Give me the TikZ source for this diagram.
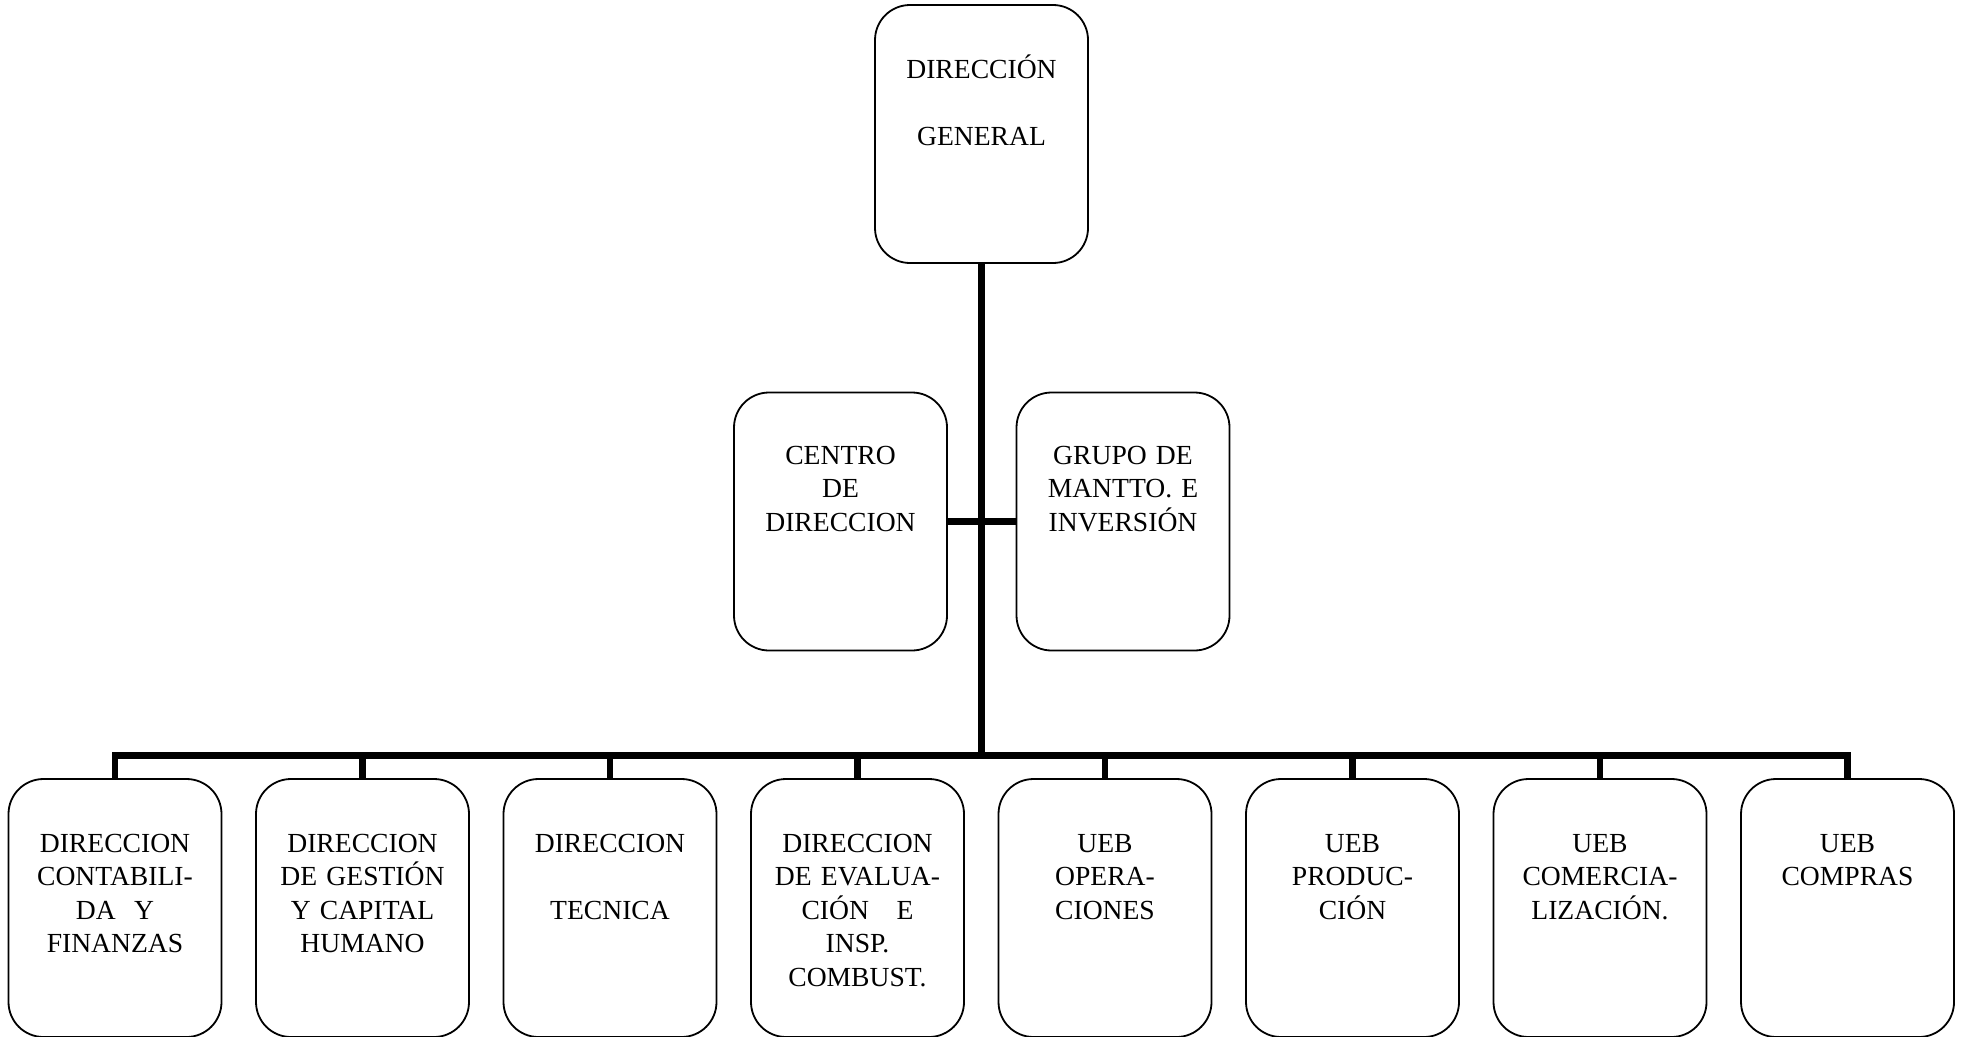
\documentclass[tikz,border=0pt]{standalone}
\usepackage{fontspec}
\setmainfont{Liberation Serif}
\begin{document}
\begin{tikzpicture}[x=1pt,y=-1pt,
  box/.style={draw=black, line width=1.8pt, rounded corners=35pt, inner sep=0pt,
    minimum width=213pt, minimum height=258pt},
  lbl/.style={anchor=base, inner sep=0pt, text width=205pt, align=center,
    font=\fontsize{27.6pt}{33.6pt}\selectfont},
  conn/.style={draw=black, line width=6.5pt}]
\useasboundingbox (0,0) rectangle (1961,1036);
\clip (0,0) rectangle (1961,1036);
% boxes
\node[box] (top) at (981.5,134) {};
\node[box] (c1) at (840.5,521.5) {};
\node[box] (c2) at (1123,521.5) {};
\foreach \i/\x in {1/115,2/362.5,3/610,4/857.5,5/1105,6/1352.5,7/1600,8/1847.5}{
  \node[box] (b\i) at (\x,908) {};
}
% texts
\node[lbl] (ttop) at (981.5,78) {DIRECCIÓN\\[33.4pt]GENERAL};
\node[lbl] (tc1) at (840.5,464) {CENTRO\\DE\\DIRECCION};
\node[lbl] (tc2) at (1123,464) {GRUPO DE\\MANTTO. E\\INVERSIÓN};
\node[lbl] (tb1) at (115,852) {DIRECCION\\CONTABILI-\\DA\ \ Y\\FINANZAS};
\node[lbl] (tb2) at (362.5,852) {DIRECCION\\DE GESTIÓN\\Y CAPITAL\\HUMANO};
\node[lbl] (tb3) at (610,852) {DIRECCION\\[33.4pt]TECNICA};
\node[lbl] (tb4) at (857.5,852) {DIRECCION\\DE EVALUA-\\CIÓN\ \ \ E\\INSP.\\COMBUST.};
\node[lbl] (tb5) at (1105,852) {UEB\\OPERA-\\CIONES};
\node[lbl] (tb6) at (1352.5,852) {UEB\\PRODUC-\\CIÓN};
\node[lbl] (tb7) at (1600,852) {UEB\\COMERCIA-\\LIZACIÓN.};
\node[lbl] (tb8) at (1847.5,852) {UEB\\COMPRAS};
% connectors
\coordinate (bus) at (982,755.5);
\draw[conn] (top.south) -- (top.south |- bus);
\draw[conn] (c1.east) -- (c2.west);
\draw[conn] (b1.north) -- (b1.north |- bus) -- (b8.north |- bus) -- (b8.north);
\foreach \i in {2,...,7}{
  \draw[conn] (b\i.north) -- (b\i.north |- bus);
}
\end{tikzpicture}
\end{document}
